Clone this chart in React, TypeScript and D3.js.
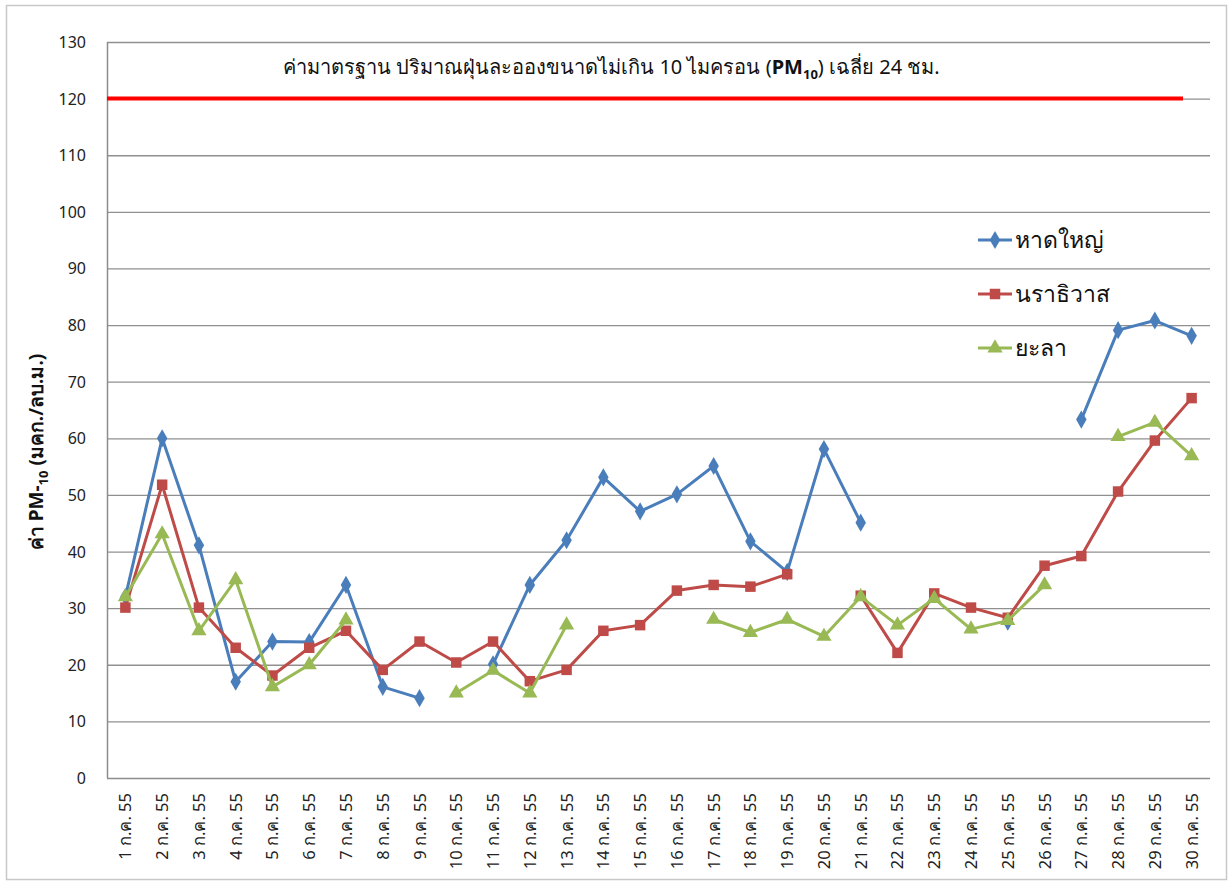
import React from "react";
import * as d3 from "d3";

const days: string[] = Array.from({ length: 30 }, (_, i) => `${i + 1} ก.ค. 55`);

const hatyai: (number | null)[] = [
  32, 60, 41.1, 17, 24.1, 24, 34.1, 16.1, 14.1, null,
  20.1, 34.1, 42, 53.1, 47.1, 50.1, 55.1, 41.8, 36.4, 58.1,
  45.1, null, null, null, 27.6, null, 63.3, 79.1, 80.8, 78.1,
];
const narathiwat: (number | null)[] = [
  30.1, 51.8, 30.1, 23, 18.1, 23, 26, 19.1, 24.1, 20.4,
  24.1, 17.1, 19.1, 26, 27, 33.1, 34.1, 33.8, 36, null,
  32.2, 22.1, 32.6, 30.1, 28.3, 37.5, 39.2, 50.6, 59.6, 67.1,
];
const yala: (number | null)[] = [
  32, 43.1, 26, 35, 16.1, 20, 27.9, null, null, 15,
  19, 15, 27, null, null, null, 28, 25.7, 28, 25,
  32, 27, 31.7, 26.3, 27.8, 34.1, null, 60.3, 62.8, 56.9,
];
const yTicks: number[] = [0, 10, 20, 30, 40, 50, 60, 70, 80, 90, 100, 110, 120, 130];
const standardValue = 120;
const seriesNames = ["หาดใหญ่", "นราธิวาส", "ยะลา"];
const seriesColors = ["#4A7EBB", "#BE4B48", "#98B954"];
const seriesShapes = [d3.symbolDiamond, d3.symbolSquare, d3.symbolTriangle];
const seriesSizes = [95, 110, 100];

const FONT = "Tahoma, 'Noto Sans', 'DejaVu Sans', sans-serif";

export default function App() {
  const W = 1228, H = 881;
  const left = 107, right = 1210, top = 42, bottom = 778;
  const x = d3.scaleBand<string>().domain(days).range([left, right]);
  const y = d3.scaleLinear().domain([0, 130]).range([bottom, top]);
  const cx = (d: string) => (x(d) as number) + x.bandwidth() / 2;
  const data = [hatyai, narathiwat, yala];

  const line = d3
    .line<number | null>()
    .defined((d) => d !== null)
    .x((_, i) => cx(days[i]))
    .y((d) => y(d as number));

  const legendY = [240, 294, 348];

  return (
    <svg width={W} height={H} style={{ position: "absolute", left: 0, top: 0 }} fontFamily={FONT}>
      <rect x={0} y={0} width={W} height={H} fill="#fff" />
      <rect x={6.5} y={5.5} width={1220} height={874} fill="none" stroke="#c8c8c8" strokeWidth={1.5} />
      {yTicks.map((t) => (
        <g key={t}>
          {t > 0 && (
            <line x1={left} x2={right} y1={y(t) + 0.5} y2={y(t) + 0.5} stroke="#909090" strokeWidth={1.3} />
          )}
          <text x={86} y={y(t) + 6} textAnchor="end" fontSize={16} fill="#222">
            {t}
          </text>
        </g>
      ))}
      <line x1={left + 0.5} x2={left + 0.5} y1={top} y2={bottom} stroke="#8c8c8c" strokeWidth={1.5} />
      <line x1={left} x2={right} y1={bottom + 0.5} y2={bottom + 0.5} stroke="#8c8c8c" strokeWidth={1.5} />
      {days.map((d) => (
        <text
          key={d}
          transform={`translate(${cx(d) + 6},793) rotate(-90)`}
          textAnchor="end"
          fontSize={16.5}
          fill="#222"
        >
          {d}
        </text>
      ))}
      <text transform={`translate(43,${452}) rotate(-90)`} textAnchor="middle" fontSize={19} fontWeight="bold" fill="#111">
        ค่า PM-<tspan fontSize={13} dy={5}>10</tspan>
        <tspan dy={-5}> (มคก./ลบ.ม.)</tspan>
      </text>
      <line x1={left} x2={right - 27} y1={y(standardValue)} y2={y(standardValue)} stroke="#ff0000" strokeWidth={4} />
      <text x={283} y={74} fontSize={20} fill="#111">
        ค่ามาตรฐาน ปริมาณฝุ่นละอองขนาดไม่เกิน 10 ไมครอน (<tspan fontWeight="bold">PM</tspan>
        <tspan fontWeight="bold" fontSize={13} dy={5}>10</tspan>
        <tspan dy={-5}>) เฉลี่ย 24 ชม.</tspan>
      </text>
      {data.map((s, si) => (
        <g key={si}>
          <path d={line(s) || ""} fill="none" stroke={seriesColors[si]} strokeWidth={3} strokeLinejoin="round" />
          {s.map((v, i) =>
            v === null ? null : (
              <path
                key={i}
                transform={`translate(${cx(days[i])},${y(v)})`}
                d={d3.symbol().type(seriesShapes[si]).size(seriesSizes[si])() || ""}
                fill={seriesColors[si]}
              />
            )
          )}
        </g>
      ))}
      {seriesNames.map((n, i) => (
        <g key={n}>
          <line x1={978} x2={1012} y1={legendY[i]} y2={legendY[i]} stroke={seriesColors[i]} strokeWidth={3} />
          <path
            transform={`translate(995,${legendY[i]})`}
            d={d3.symbol().type(seriesShapes[i]).size(seriesSizes[i])() || ""}
            fill={seriesColors[i]}
          />
          <text x={1015} y={legendY[i] + 8} fontSize={23} fill="#111">
            {n}
          </text>
        </g>
      ))}
    </svg>
  );
}
